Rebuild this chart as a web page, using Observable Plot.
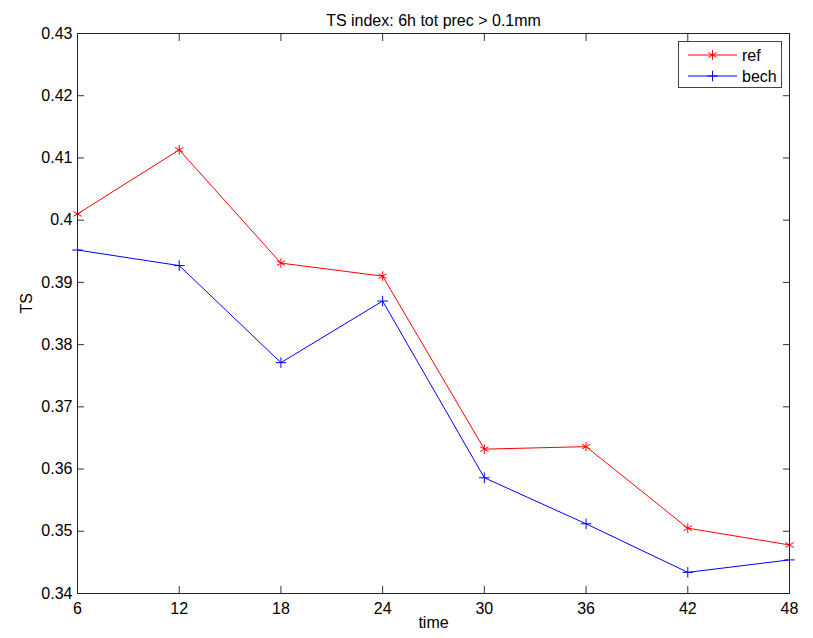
<!DOCTYPE html>
<html><head><meta charset="utf-8">
<script src="https://cdn.jsdelivr.net/npm/d3@7"></script>
<script src="https://cdn.jsdelivr.net/npm/@observablehq/plot@0.6"></script>
<style>
body{margin:0;background:#fff;font-family:"Liberation Sans",Arial,sans-serif}
#wrap{position:relative;width:813px;height:638px}
#legend{position:absolute;left:678px;top:41px;width:104px;height:47px;border:1px solid #444;background:#fff;box-sizing:border-box}
</style>
</head><body>
<div id="wrap"></div>
<script>
const times = [6, 12, 18, 24, 30, 36, 42, 48];
const refTS = [0.4010, 0.4113, 0.3931, 0.3910, 0.3632, 0.3636, 0.3505, 0.3478];
const bechTS = [0.3952, 0.3927, 0.3771, 0.3870, 0.3586, 0.3512, 0.3434, 0.3454];
const seriesNames = ["ref", "bech"];
const seriesColors = ["#ff0000", "#0000ff"];
const seriesSymbols = ["asterisk", "plus"];
const xTicks = [6, 12, 18, 24, 30, 36, 42, 48];
const yTicks = [0.34, 0.35, 0.36, 0.37, 0.38, 0.39, 0.40, 0.41, 0.42, 0.43];
const titleText = "TS index: 6h tot prec > 0.1mm";
const xLabel = "time";
const yLabel = "TS";

const data = [
  ...times.map((t, i) => ({time: t, TS: refTS[i], series: "ref"})),
  ...times.map((t, i) => ({time: t, TS: bechTS[i], series: "bech"}))
];
const fmt = d => String(+d.toFixed(2));

const chart = Plot.plot({
  width: 813, height: 638,
  marginLeft: 77, marginRight: 24, marginTop: 33, marginBottom: 45,
  style: {fontFamily: '"Liberation Sans", Arial, sans-serif', fontSize: "16px", color: "#000", background: "#fff"},
  x: {domain: [6, 48]},
  y: {domain: [0.34, 0.43]},
  color: {domain: seriesNames, range: seriesColors},
  symbol: {domain: seriesNames, range: seriesSymbols},
  marks: [
    Plot.line(data, {x: "time", y: "TS", z: "series", stroke: "series", strokeWidth: 1}),
    Plot.dot(data.filter(d => d.series === "ref"), {x: "time", y: "TS", stroke: "series", symbol: "series", r: 4.5, strokeWidth: 1}),
    Plot.dot(data.filter(d => d.series === "bech"), {x: "time", y: "TS", stroke: "series", symbol: "series", r: 3.5, strokeWidth: 1}),
    Plot.axisX({ticks: xTicks, tickSize: 0, tickPadding: 9, tickFormat: d => String(d), label: null, fontSize: 16}),
    Plot.axisY({ticks: yTicks, tickSize: 0, tickPadding: 5, tickFormat: fmt, label: null, fontSize: 16}),
    Plot.axisX({ticks: xTicks, anchor: "bottom", tickSize: -7, tickFormat: () => "", label: null, stroke: "#333"}),
    Plot.axisX({ticks: xTicks, anchor: "top", tickSize: -7, tickFormat: () => "", label: null, stroke: "#333"}),
    Plot.axisY({ticks: yTicks, anchor: "left", tickSize: -7, tickFormat: () => "", label: null, stroke: "#333"}),
    Plot.axisY({ticks: yTicks, anchor: "right", tickSize: -7, tickFormat: () => "", label: null, stroke: "#333"}),
    Plot.frame({stroke: "#222"}),
    Plot.text([titleText], {frameAnchor: "top", dy: -19, fontSize: 16, fill: "#000"}),
    Plot.text([xLabel], {frameAnchor: "bottom", dy: 34, fontSize: 16, fill: "#000"}),
    Plot.text([yLabel], {frameAnchor: "left", dx: -51, rotate: -90, fontSize: 16, fill: "#000"})
  ]
});
const wrap = document.getElementById("wrap");
wrap.appendChild(chart);

// legend
const leg = document.createElement("div");
leg.id = "legend";
const lsvg = d3.select(leg).append("svg").attr("width", 104).attr("height", 47);
seriesNames.forEach((name, i) => {
  const y = 13 + i * 21;
  const g = lsvg.append("g");
  g.append("line").attr("x1", 9).attr("x2", 58).attr("y1", y).attr("y2", y).attr("stroke", seriesColors[i]).attr("stroke-width", 1);
  const sym = i === 0 ? d3.symbolAsterisk : d3.symbolPlus;
  const r = i === 0 ? 4.5 : 3.5;
  g.append("path").attr("d", d3.symbol(sym, Math.PI * r * r)()).attr("transform", `translate(33.5,${y})`).attr("fill", "none").attr("stroke", seriesColors[i]);
  g.append("text").attr("x", 63).attr("y", y).attr("dy", "0.36em").attr("font-size", 16).attr("font-family", '"Liberation Sans", Arial, sans-serif').text(name);
});
wrap.appendChild(leg);
</script>
</body></html>
